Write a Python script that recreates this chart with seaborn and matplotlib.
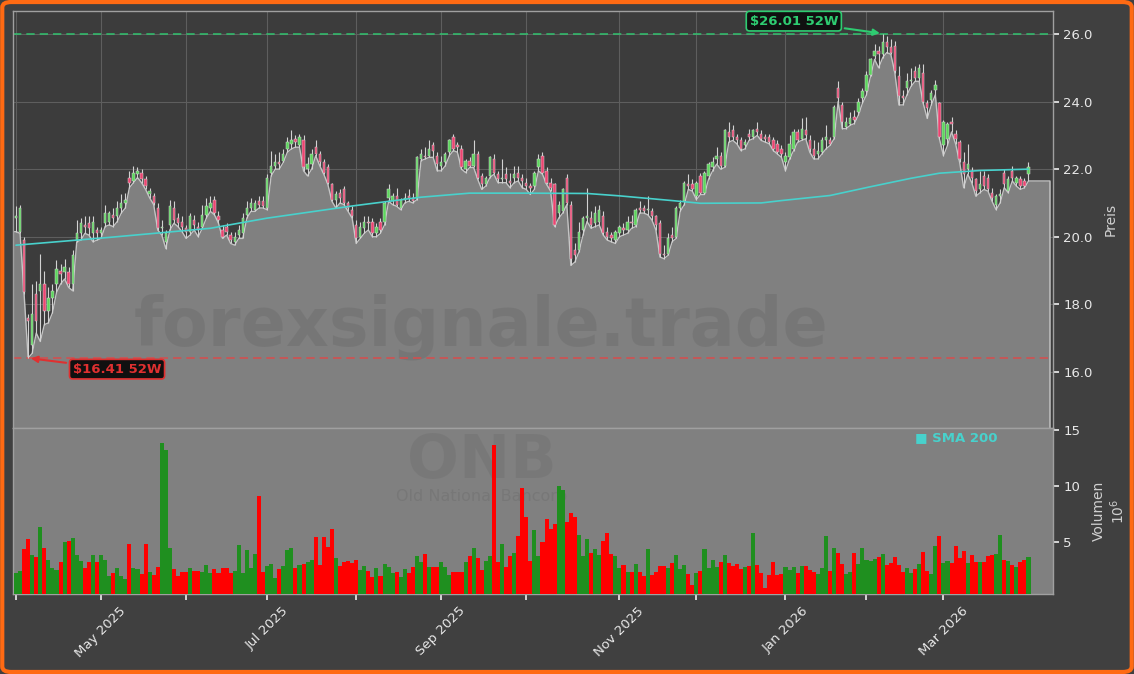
import matplotlib
matplotlib.use("Agg")
import matplotlib.pyplot as plt
from matplotlib.patches import FancyBboxPatch
from matplotlib.ticker import FormatStrFormatter
import numpy as np
import pandas as pd
import seaborn as sns

# ONB daily prices, 1 Apr 2025 - 31 Mar 2026
holidays = ["2025-04-18", "2025-05-26", "2025-06-19", "2025-07-04", "2025-09-01",
            "2025-11-27", "2025-12-25", "2026-01-01", "2026-01-19", "2026-02-16"]
dates = pd.bdate_range("2025-04-01", "2026-03-31", freq="C", holidays=holidays)

open_ = [
    # Apr
    20.55, 20.15, 19.90, 17.60, 16.80, 18.30, 18.40, 18.60, 17.80, 18.20, 18.60,
    19.00, 18.95, 18.95, 18.60, 19.90, 20.10, 20.35, 20.40, 20.10, 20.20,
    # May
    20.10, 20.40, 20.45, 20.65, 20.60, 20.85, 21.00, 21.75, 21.65, 21.85, 21.90,
    21.70, 21.25, 21.20, 20.85, 20.25, 19.85, 20.35, 20.85, 20.55, 20.45,
    # Jun
    20.25, 20.15, 20.50, 20.30, 20.30, 20.65, 20.85, 21.10, 20.60, 20.20,
    20.30, 20.05, 19.85, 20.05, 20.10, 20.65, 20.85, 20.80, 21.05, 21.05,
    # Jul
    20.85, 21.90, 22.10, 22.20, 22.25, 22.60, 22.75, 22.90, 22.70, 22.85, 22.00,
    22.15, 22.65, 22.45, 22.20, 22.05, 21.55, 21.10, 21.30, 21.40, 21.00, 20.80,
    # Aug
    20.35, 20.00, 20.25, 20.45, 20.45, 20.10, 20.45, 20.45, 21.15, 21.05, 21.20,
    20.85, 21.10, 21.20, 21.15, 21.15, 22.30, 22.40, 22.40, 22.70, 22.40,
    # Sep
    22.10, 22.20, 22.50, 22.95, 22.70, 22.60, 22.00, 22.25, 22.10, 22.45, 21.80,
    21.55, 21.80, 22.30, 21.85, 21.70, 21.85, 21.65, 21.75, 21.90, 21.75,
    # Oct
    21.60, 21.50, 21.50, 22.05, 22.40, 21.95, 21.60, 21.55, 20.70, 20.75, 21.75,
    20.95, 19.60, 19.60, 20.20, 20.55, 20.55, 20.40, 20.45, 20.60, 20.15, 20.05,
    19.90,
    # Nov
    20.10, 20.25, 20.20, 20.45, 20.35, 20.85, 20.85, 20.78, 20.75, 20.60, 20.40,
    19.50, 19.50, 20.05, 20.00, 20.85, 21.05, 21.55, 21.55,
    # Dec
    21.20, 21.80, 21.30, 21.80, 22.05, 22.30, 22.40, 22.10, 23.10, 23.15, 22.95,
    22.85, 22.70, 23.05, 22.95, 23.20, 23.05, 22.95, 22.95, 22.85, 22.75, 22.60,
    # Jan
    22.20, 22.35, 22.60, 23.10, 22.90, 23.15, 22.85, 22.60, 22.45, 22.50, 22.85,
    22.85, 22.95, 24.40, 23.90, 23.25, 23.35, 23.55, 23.70, 24.10,
    # Feb
    24.30, 24.80, 25.35, 25.50, 25.40, 25.75, 25.60, 25.65, 24.75, 24.15, 24.40,
    24.60, 24.90, 24.70, 24.85, 23.95, 24.05, 24.35, 23.95,
    # Mar
    22.70, 22.90, 23.40, 23.05, 22.80, 22.20, 22.00, 21.95, 21.70, 21.40, 21.80,
    21.75, 21.30, 20.95, 21.20, 21.90, 21.35, 21.95, 21.60, 21.70, 21.65, 21.85,
]
high = [
    20.90, 20.95, 20.00, 17.70, 18.60, 18.70, 19.50, 19.00, 18.50, 18.60, 19.30,
    19.20, 19.35, 19.10, 19.60, 20.50, 20.55, 20.60, 20.60, 20.60, 20.30,
    20.30, 20.95, 20.75, 20.85, 21.05, 21.25, 21.30, 21.95, 22.10, 22.05, 22.00,
    21.80, 21.45, 21.30, 21.00, 20.50, 20.20, 21.10, 21.05, 20.70, 20.60,
    20.35, 20.70, 20.65, 20.45, 20.95, 21.15, 21.20, 21.20, 20.75, 20.35,
    20.40, 20.15, 20.15, 20.35, 20.70, 21.05, 21.15, 21.10, 21.20, 21.20,
    21.85, 22.55, 22.45, 22.50, 22.60, 22.95, 23.15, 23.00, 23.05, 23.00, 22.35,
    22.60, 22.85, 22.55, 22.30, 22.15, 21.60, 21.35, 21.40, 21.50, 21.05, 20.90,
    20.50, 20.45, 20.60, 20.60, 20.55, 20.40, 20.55, 21.05, 21.55, 21.30, 21.45,
    21.15, 21.30, 21.40, 21.30, 22.40, 22.60, 22.65, 22.85, 22.80, 22.50,
    22.40, 22.50, 22.90, 23.05, 22.80, 22.70, 22.30, 22.35, 22.85, 22.55, 21.90,
    21.80, 22.40, 22.45, 21.95, 22.30, 22.05, 21.90, 22.10, 22.10, 21.85,
    21.75, 21.60, 21.95, 22.45, 22.50, 22.05, 21.75, 21.60, 21.05, 21.45, 21.85,
    21.05, 19.80, 20.45, 20.60, 21.45, 20.75, 20.90, 20.95, 20.75, 20.30, 20.15,
    20.20,
    20.35, 20.40, 20.60, 20.65, 20.85, 21.05, 20.95, 21.20, 20.85, 20.65, 20.50,
    19.75, 20.10, 20.30, 20.90, 21.10, 21.65, 21.85, 21.70,
    21.65, 21.90, 21.95, 22.20, 22.35, 22.65, 22.50, 23.20, 23.40, 23.30, 23.05,
    22.95, 22.90, 23.20, 23.20, 23.40, 23.15, 23.05, 23.05, 22.95, 22.85, 22.70,
    22.50, 23.00, 23.20, 23.20, 23.50, 23.55, 23.00, 22.85, 22.80, 22.95, 23.30,
    22.95, 23.90, 24.60, 24.00, 23.55, 23.70, 23.75, 24.10, 24.40,
    24.90, 25.30, 25.70, 25.65, 26.01, 25.95, 25.85, 25.80, 25.05, 24.35, 24.85,
    25.00, 25.05, 25.10, 25.10, 24.05, 24.35, 24.65, 24.00,
    23.45, 23.40, 23.55, 23.15, 22.85, 22.50, 22.75, 22.05, 21.75, 21.95, 21.95,
    21.85, 21.45, 21.25, 21.40, 22.00, 21.80, 22.10, 21.80, 21.80, 21.75, 22.20,
]
low = [
    20.15, 20.10, 18.30, 16.41, 16.55, 17.15, 16.90, 17.40, 17.45, 17.75, 18.35,
    18.60, 18.75, 18.50, 18.40, 19.85, 19.90, 20.10, 20.05, 19.85, 19.90,
    19.95, 20.30, 20.35, 20.30, 20.45, 20.70, 20.85, 21.45, 21.60, 21.75, 21.60,
    21.40, 21.15, 20.95, 20.20, 20.05, 19.65, 20.20, 20.40, 20.30, 20.15,
    19.95, 20.05, 20.20, 20.00, 20.25, 20.55, 20.75, 20.65, 20.40, 19.95,
    20.05, 19.80, 19.75, 19.95, 19.95, 20.55, 20.75, 20.75, 20.85, 20.85,
    20.80, 21.80, 22.00, 22.00, 22.20, 22.50, 22.60, 22.65, 22.65, 21.95, 21.80,
    22.00, 22.40, 22.10, 21.85, 21.55, 21.05, 20.85, 21.00, 20.95, 20.75, 20.55,
    19.80, 19.95, 20.10, 20.20, 20.00, 20.00, 20.10, 20.35, 21.05, 20.95, 20.90,
    20.80, 21.00, 21.05, 21.00, 21.10, 22.25, 22.30, 22.35, 22.35, 21.95,
    21.95, 22.10, 22.40, 22.55, 22.50, 22.00, 21.90, 22.05, 22.05, 21.70, 21.40,
    21.50, 21.75, 21.85, 21.60, 21.60, 21.60, 21.45, 21.60, 21.65, 21.45,
    21.40, 21.25, 21.40, 21.95, 21.85, 21.55, 21.35, 20.30, 20.55, 20.70, 20.95,
    19.15, 19.25, 19.55, 20.05, 20.45, 20.25, 20.30, 20.35, 20.05, 19.90, 19.85,
    19.80,
    20.00, 20.05, 20.10, 20.25, 20.30, 20.70, 20.70, 20.65, 20.50, 20.20, 19.40,
    19.35, 19.45, 19.85, 19.95, 20.75, 20.95, 21.40, 21.35,
    21.10, 21.25, 21.25, 21.70, 21.95, 22.15, 22.00, 22.05, 22.80, 22.85, 22.75,
    22.55, 22.60, 22.85, 22.90, 23.00, 22.85, 22.80, 22.75, 22.55, 22.45, 22.35,
    21.95, 22.30, 22.55, 22.80, 22.85, 22.90, 22.50, 22.30, 22.30, 22.45, 22.60,
    22.70, 22.90, 24.00, 23.20, 23.20, 23.30, 23.35, 23.60, 23.95,
    24.20, 24.75, 25.25, 25.00, 25.30, 25.45, 25.40, 24.85, 23.90, 23.90, 24.20,
    24.45, 24.60, 24.60, 23.95, 23.50, 23.90, 24.20, 22.90,
    22.40, 22.70, 23.10, 22.75, 22.20, 21.45, 21.85, 21.60, 21.20, 21.30, 21.40,
    21.35, 21.05, 20.80, 21.00, 21.45, 21.30, 21.65, 21.50, 21.40, 21.45, 21.65,
]
close = [
    20.60, 20.85, 18.35, 17.50, 17.70, 17.50, 18.60, 17.80, 18.20, 18.40, 19.05,
    18.90, 19.10, 18.60, 19.45, 20.10, 20.40, 20.30, 20.25, 20.45, 20.10,
    20.20, 20.70, 20.70, 20.55, 20.85, 21.00, 21.10, 21.60, 21.90, 21.95, 21.70,
    21.50, 21.35, 21.00, 20.25, 20.30, 20.10, 20.90, 20.50, 20.40, 20.30,
    20.15, 20.60, 20.35, 20.20, 20.65, 20.90, 21.00, 20.70, 20.50, 20.00,
    20.15, 19.90, 20.00, 20.20, 20.55, 20.85, 21.00, 21.00, 20.95, 20.90,
    21.75, 22.10, 22.20, 22.15, 22.45, 22.80, 22.85, 22.80, 22.95, 22.05, 22.15,
    22.45, 22.45, 22.20, 21.90, 21.60, 21.10, 21.25, 21.15, 21.00, 20.85, 20.60,
    19.95, 20.30, 20.45, 20.40, 20.10, 20.30, 20.20, 21.00, 21.40, 21.20, 20.95,
    21.10, 21.15, 21.15, 21.05, 22.35, 22.45, 22.35, 22.60, 22.55, 22.15,
    22.20, 22.45, 22.85, 22.60, 22.65, 22.05, 22.25, 22.10, 22.45, 21.75, 21.55,
    21.75, 22.35, 21.90, 21.70, 21.75, 21.70, 21.60, 21.85, 21.75, 21.65,
    21.50, 21.45, 21.90, 22.30, 21.90, 21.60, 21.45, 20.35, 20.95, 21.40, 21.00,
    19.35, 19.45, 20.15, 20.55, 20.60, 20.35, 20.70, 20.80, 20.10, 20.00, 19.95,
    20.15,
    20.30, 20.20, 20.45, 20.40, 20.80, 20.80, 20.75, 20.82, 20.60, 20.35, 19.50,
    19.45, 19.95, 19.95, 20.85, 21.00, 21.60, 21.50, 21.40,
    21.60, 21.30, 21.90, 22.15, 22.20, 22.40, 22.10, 23.15, 22.95, 22.95, 22.85,
    22.60, 22.80, 22.95, 23.15, 23.10, 22.90, 22.90, 22.80, 22.60, 22.50, 22.45,
    22.40, 22.75, 23.10, 22.85, 23.20, 23.00, 22.60, 22.40, 22.55, 22.85, 22.95,
    22.75, 23.85, 24.10, 23.40, 23.40, 23.50, 23.45, 24.00, 24.30,
    24.80, 25.25, 25.50, 25.40, 25.75, 25.60, 25.45, 24.90, 24.15, 24.10, 24.60,
    24.65, 24.70, 25.00, 24.00, 23.80, 24.25, 24.50, 22.95,
    23.40, 23.35, 23.35, 22.90, 22.30, 21.85, 22.15, 21.75, 21.35, 21.55, 21.50,
    21.40, 21.15, 21.20, 21.25, 21.55, 21.70, 21.75, 21.75, 21.50, 21.50, 22.05,
]
volume_mio = [
    2.20, 2.35, 4.34, 5.20, 3.80, 3.62, 6.30, 4.43, 3.32, 2.69, 2.45, 3.17, 4.97,
    5.10, 5.30, 3.83, 3.23, 2.63, 3.17, 3.80, 3.17,
    3.80, 3.32, 1.94, 2.18, 2.69, 1.94, 1.67, 4.80, 2.69, 2.54, 2.09, 4.80, 2.27,
    2.03, 2.72, 13.85, 13.20, 4.43, 2.54, 1.94, 2.27,
    2.33, 2.63, 2.42, 2.39, 2.33, 2.90, 2.18, 2.54, 2.18, 2.63, 2.63, 2.18, 2.42,
    4.70, 2.18, 4.25, 2.63, 3.89, 9.07, 2.33,
    2.84, 2.99, 1.73, 2.54, 2.87, 4.25, 4.43, 2.69, 2.93, 2.99, 3.17, 3.32, 5.42,
    2.93, 5.39, 4.50, 6.13, 3.53, 2.84, 3.17, 3.23, 3.08,
    3.40, 2.51, 2.87, 2.42, 1.82, 2.63, 1.94, 2.99, 2.75, 2.20, 2.33, 1.82, 2.54,
    2.18, 2.72, 3.74, 3.17, 3.89, 2.72, 2.72, 2.72,
    3.17, 2.72, 2.00, 2.27, 2.33, 2.33, 3.17, 3.74, 4.43, 3.53, 2.45, 3.23, 3.71,
    13.70, 3.17, 4.80, 2.72, 3.71, 3.98, 5.50, 9.80,
    7.20, 3.26, 6.04, 3.74, 4.97, 7.03, 6.16, 6.55, 10.00, 9.60, 6.76, 7.56, 7.17,
    5.58, 3.71, 5.20, 3.98, 4.34, 3.80, 5.10, 5.79, 3.89, 3.71,
    2.63, 2.90, 2.33, 2.33, 2.99, 2.27, 1.94, 4.34, 2.00, 2.27, 2.81, 2.81, 2.63,
    3.08, 3.80, 2.54, 2.90, 2.09, 1.10,
    2.18, 2.36, 4.34, 2.63, 3.35, 2.72, 3.17, 3.80, 3.08, 2.81, 2.99, 2.54, 2.72,
    2.81, 5.82, 2.90, 2.18, 0.84, 2.00, 3.17, 2.00, 2.09,
    2.72, 2.45, 2.72, 2.18, 2.81, 2.81, 2.45, 2.27, 2.09, 2.63, 5.50, 2.36, 4.43,
    3.98, 2.99, 2.09, 2.27, 3.98, 2.99, 4.43,
    3.35, 3.26, 3.44, 3.62, 3.89, 2.90, 3.08, 3.62, 2.90, 2.27, 2.63, 2.18, 2.54,
    2.99, 4.07, 2.36, 2.09, 4.60, 5.50,
    3.08, 3.26, 3.08, 4.60, 3.53, 4.16, 3.08, 3.80, 3.17, 3.17, 3.17, 3.71, 3.80,
    3.89, 5.64, 3.35, 3.26, 2.90, 2.72, 3.17, 3.35, 3.62,
]
# 200-day SMA as drawn (trading-day position, value)
sma_pos = [0, 23, 48, 62, 83, 100, 112, 126, 141, 149, 162, 169, 184, 189,
           201, 211, 221, 228, 238, 250]
sma_200 = [19.75, 19.98, 20.25, 20.55, 20.91, 21.17, 21.29, 21.29, 21.28, 21.21,
           21.07, 20.99, 21.00, 21.07, 21.22, 21.48, 21.73, 21.88, 21.96, 22.00]

# ---- figure ----
sns.set_theme(style="dark")
plt.rcParams["font.family"] = ["DejaVu Sans"]

W, H = 1134, 674
fig = plt.figure(figsize=(W / 100, H / 100), dpi=100, facecolor="#404040")
ax = fig.add_axes([13 / W, 1 - 428 / H, 1040 / W, 417 / H])
axv = fig.add_axes([13 / W, 1 - 594 / H, 1040 / W, 166 / H], sharex=ax)

n = len(close)
x = np.arange(n)
o = np.array(open_)
c = np.array(close)
hi = np.array(high)
lo = np.array(low)
up = c >= o
x_left, x_right = -0.74, n + 5.05

# price panel
ax.set_facecolor("#3c3c3c")
fill_x = np.concatenate([[x_left], x, [n + 4.3, n + 4.3]])
fill_y = np.concatenate([[lo[0]], lo, [lo[-1], 14.0]])
ax.fill_between(fill_x[:-1], fill_y[:-1], 14.0, color="#808080", zorder=1, lw=0)
ax.plot(fill_x, fill_y, color="#c4c4c4", lw=1.0, zorder=2)

ax.vlines(x, lo, hi, color="#d2d2d2", lw=0.8, zorder=3)
body_bottom = np.minimum(o, c)
body_h = np.maximum(np.abs(c - o), 0.03)
ax.bar(x, body_h, bottom=body_bottom, width=0.58,
       color=np.where(up, "#5cd65c", "#ec4470"), edgecolor="#d8d8d8",
       linewidth=0.35, zorder=4)

sns.lineplot(x=sma_pos, y=sma_200, ax=ax, color="#48d1cc", lw=1.2, zorder=5)

hi52, lo52 = hi.max(), lo.min()
i_hi, i_lo = int(hi.argmax()), int(lo.argmin())
ax.axhline(hi52, color="#2ecc71", ls=(0, (5, 3)), lw=1.2, alpha=0.85, zorder=2.5)
ax.axhline(lo52, color="#e04848", ls=(0, (5, 3)), lw=1.2, alpha=0.85, zorder=2.5)
ax.annotate(f"${hi52:.2f} 52W", xy=(i_hi, hi52), xytext=(-64, 9),
            textcoords="offset points", ha="center", va="center",
            fontsize=9.5, fontweight="bold", color="#2ecc71",
            bbox=dict(boxstyle="round,pad=0.25", fc="#101010", ec="#2ecc71", lw=1.2),
            arrowprops=dict(arrowstyle="-|>", color="#2ecc71", lw=1.5), zorder=6)
ax.annotate(f"${lo52:.2f} 52W", xy=(i_lo, lo52), xytext=(64, -8),
            textcoords="offset points", ha="center", va="center",
            fontsize=9.5, fontweight="bold", color="#e03030",
            bbox=dict(boxstyle="round,pad=0.25", fc="#101010", ec="#e03030", lw=1.2),
            arrowprops=dict(arrowstyle="-|>", color="#e03030", lw=1.5), zorder=6)

ax.text(0.45, 0.242, "forexsignale.trade", transform=ax.transAxes, fontsize=48,
        fontweight="bold", color="#3a3a3a", alpha=0.13, ha="center", va="center",
        zorder=2.2)

ax.set_ylim(14.34, 26.68)
ax.set_yticks([16, 18, 20, 22, 24, 26])
ax.yaxis.set_major_formatter(FormatStrFormatter("%.1f"))
ax.yaxis.tick_right()
ax.yaxis.set_label_position("right")
ax.set_ylabel("Preis", color="#d0d0d0", fontsize=10, labelpad=8)

# volume panel
axv.set_facecolor("#808080")
vol_df = pd.DataFrame({"pos": x, "vol": volume_mio,
                       "dir": np.where(up, "up", "down")})
sns.barplot(data=vol_df, x="pos", y="vol", hue="dir", native_scale=True,
            palette={"up": "#1f8f1f", "down": "#ff0000"}, saturation=1,
            dodge=False, width=1.0, linewidth=0, errorbar=None, legend=False,
            ax=axv, zorder=3)
axv.text(0.451, 0.80, "ONB", transform=axv.transAxes, fontsize=44,
         fontweight="bold", color="#3a3a3a", alpha=0.1, ha="center", va="center",
         zorder=0.5)
axv.text(0.451, 0.585, "Old National Bancorp", transform=axv.transAxes,
         fontsize=11.5, color="#3a3a3a", alpha=0.12, ha="center", va="center",
         zorder=0.5)
axv.set_ylim(0.32, 15.18)
axv.set_yticks([5, 10, 15])
axv.yaxis.tick_right()
axv.yaxis.set_label_position("right")
axv.set_ylabel("Volumen\n$10^{6}$", color="#d0d0d0", fontsize=10, labelpad=8)
axv.set_xlabel("")

# month ticks
month_pos = [i for i in range(n) if i == 0 or dates[i].month != dates[i - 1].month]
month_lab = [dates[i].strftime("%b %Y") if dates[i].month % 2 == 1 else ""
             for i in month_pos]
axv.set_xlim(x_left, x_right)
axv.set_xticks(month_pos)
axv.set_xticklabels(month_lab, rotation=45)

for a in (ax, axv):
    a.grid(False)
    for s in a.spines.values():
        s.set_color("#a0a0a0")
        s.set_linewidth(1.0)
    a.tick_params(axis="y", colors="#e8e8e8", labelsize=9.5, length=4,
                  direction="out", left=False, right=True)
ax.grid(True, color="#5e5e5e", lw=0.8)
ax.set_axisbelow(True)
ax.tick_params(axis="x", length=0, labelbottom=False)
axv.tick_params(axis="x", colors="#e8e8e8", labelsize=9.5, length=4,
                direction="out", bottom=True)

fig.text(915 / W, 1 - 438 / H, "\u25a0 SMA 200", color="#48d1cc", fontsize=9.5,
         fontweight="bold", va="center", ha="left")

fig.patches.append(FancyBboxPatch((0.002, 0.003), 0.996, 0.994,
                                  boxstyle="round,pad=0,rounding_size=0.008",
                                  transform=fig.transFigure, fc="none",
                                  ec="#ff6a13", lw=3))

fig.savefig("out.png", dpi=100, facecolor=fig.get_facecolor())
